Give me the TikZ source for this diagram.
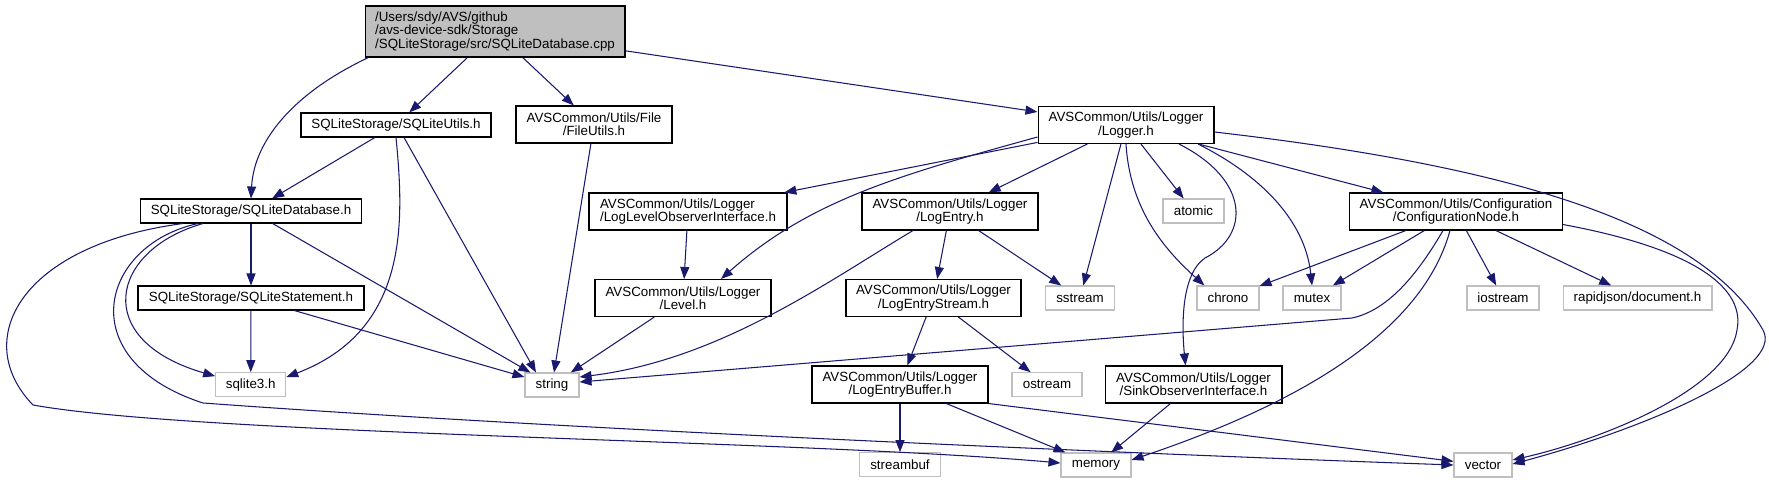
\documentclass[tikz,border=0pt]{standalone}
\usepackage{fontspec}
\setmainfont{Liberation Sans}
\usetikzlibrary{arrows.meta, calc, positioning}

\definecolor{edgeblue}{RGB}{25,25,112}
\definecolor{boxgray}{RGB}{191,191,191}

\tikzset{
  hdr/.style={draw=black, fill=white, line width=0.6pt, inner sep=0pt, align=center,
              font=\fontsize{7.6}{7.6}\selectfont, minimum height=0.48cm},
  hdrtwo/.style={hdr, minimum height=0.74cm},
  sys/.style={hdr, draw=boxgray},
  dep/.style={draw=edgeblue, line width=0.6pt, -{Triangle[length=0.24cm, width=0.18cm]}}
}

\begin{document}
\begin{tikzpicture}[x=0.02cm, y=-0.02cm]
    \path[use as bounding box, fill=white] (0,0) rectangle (1769,483);

    % top row
    \node[hdr, fill=boxgray, align=left, minimum width=5.2cm, minimum height=1.02cm] (root) at (495,31.5)
      {/Users/sdy/AVS/github\\/avs-device-sdk/Storage\\/SQLiteStorage/src/SQLiteDatabase.cpp};
    \node[hdr, minimum width=3.8cm] (sqlutils) at (396,125) {SQLiteStorage/SQLiteUtils.h};
    \node[hdrtwo, minimum width=3.12cm] (fileutils) at (594,124.5) {AVSCommon/Utils/File\\/FileUtils.h};
    \node[hdrtwo, minimum width=3.52cm] (logger) at (1126,125) {AVSCommon/Utils/Logger\\/Logger.h};

    % second row
    \node[hdr, minimum width=4.42cm] (sqldb) at (251,211) {SQLiteStorage/SQLiteDatabase.h};
    \node[hdrtwo, align=left, minimum width=3.96cm] (loglevelobs) at (688,211.5) {AVSCommon/Utils/Logger\\/LogLevelObserverInterface.h};
    \node[hdrtwo, minimum width=3.52cm] (logentry) at (950,211.5) {AVSCommon/Utils/Logger\\/LogEntry.h};
    \node[sys, minimum width=1.22cm] (atomic) at (1193.5,211) {atomic};
    \node[hdrtwo, minimum width=4.26cm] (confignode) at (1456,211.5) {AVSCommon/Utils/Configuration\\/ConfigurationNode.h};

    % third row
    \node[hdr, minimum width=4.52cm] (sqlstmt) at (251,298) {SQLiteStorage/SQLiteStatement.h};
    \node[hdrtwo, minimum width=3.52cm] (level) at (683,298) {AVSCommon/Utils/Logger\\/Level.h};
    \node[hdrtwo, minimum width=3.5cm] (logstream) at (933.5,298) {AVSCommon/Utils/Logger\\/LogEntryStream.h};
    \node[sys, minimum width=1.38cm] (sstream) at (1080,298) {sstream};
    \node[sys, minimum width=1.24cm] (chrono) at (1228,298) {chrono};
    \node[sys, minimum width=1.16cm] (mutex) at (1312,298) {mutex};
    \node[sys, minimum width=1.44cm] (iostream) at (1503,298) {iostream};
    \node[sys, minimum width=2.98cm] (rapidjson) at (1637.5,298) {rapidjson/document.h};

    % fourth row
    \node[sys, minimum width=1.4cm] (sqlite3) at (250.7,384.7) {sqlite3.h};
    \node[sys, minimum width=1.08cm] (string) at (552,385) {string};
    \node[hdrtwo, minimum width=3.52cm] (logbuffer) at (900,384.5) {AVSCommon/Utils/Logger\\/LogEntryBuffer.h};
    \node[sys, minimum width=1.4cm] (ostream) at (1047,384.7) {ostream};
    \node[hdrtwo, minimum width=3.54cm] (sinkobs) at (1193.5,384.5) {AVSCommon/Utils/Logger\\/SinkObserverInterface.h};

    % bottom row
    \node[sys, minimum width=1.62cm] (streambuf) at (900,464.7) {streambuf};
    \node[sys, minimum width=1.4cm] (memory) at (1096,465) {memory};
    \node[sys, minimum width=1.16cm] (vector) at (1483,465) {vector};

    % SQLiteDatabase.cpp
    \draw[dep] ($(root.south west)+(4,0)$) .. controls (295,92) and (254,140) .. (sqldb.north);
    \draw[dep] (root) -- (sqlutils);
    \draw[dep] (root) -- (fileutils);
    \draw[dep] (root) -- (logger);

    % SQLiteUtils.h, FileUtils.h
    \draw[dep] (sqlutils) -- (sqldb);
    \draw[dep] (sqlutils.south) .. controls (404,220) and (410,330) .. ($(sqlite3.north east)+(0,5)$);
    \draw[dep] ($(sqlutils.south)+(8,0)$) -- ($(string.north)+(-16,0)$);
    \draw[dep] (fileutils) -- (string);

    % SQLiteDatabase.h, SQLiteStatement.h
    \draw[dep] (sqldb) -- (sqlstmt);
    \draw[dep] (sqldb) -- (string);
    \draw[dep] ($(sqldb.south)+(-48,0)$) .. controls (110,250) and (90,340) .. ($(sqlite3.north west)+(0,4)$);
    \draw[dep] ($(sqldb.south)+(-53,0)$) .. controls (100,245) and (70,360) .. (203,403)
      .. controls (600,432) and (1200,456) .. (vector.west);
    \draw[dep] ($(sqldb.south)+(-68,0)$) .. controls (20,245) and (-30,340) .. (33,405)
      .. controls (200,435) and (800,440) .. ($(memory.west)+(0,-2)$);
    \draw[dep] (sqlstmt) -- (sqlite3);
    \draw[dep] (sqlstmt) -- (string);

    % Logger.h
    \draw[dep] (logger) -- (loglevelobs);
    \draw[dep] ($(logger.west)+(0,12)$) .. controls (900,175) and (810,200) .. ($(level.north)+(38,0)$);
    \draw[dep] (logger) -- (logentry);
    \draw[dep] (logger) -- (sstream);
    \draw[dep] (logger) -- (atomic);
    \draw[dep] (logger.south) .. controls (1130,210) and (1165,250) .. ($(chrono.north west)+(8,0)$);
    \draw[dep] ($(logger.south)+(53,0)$) .. controls (1250,180) and (1250,235) .. (1205,258)
      .. controls (1180,275) and (1182,330) .. ($(sinkobs.north)+(-8,0)$);
    \draw[dep] ($(logger.south)+(72,0)$) .. controls (1260,175) and (1305,220) .. (mutex.north);
    \draw[dep] (logger) -- (confignode);
    \draw[dep] ($(logger.east)+(0,7)$) .. controls (1500,165) and (1700,220) .. (1763,330)
      .. controls (1785,370) and (1640,430) .. ($(vector.east)+(0,-1)$);

    % ConfigurationNode.h
    \draw[dep] (confignode) -- (chrono);
    \draw[dep] (confignode) -- (mutex);
    \draw[dep] (confignode) -- (iostream);
    \draw[dep] (confignode) -- (rapidjson);
    \draw[dep] ($(confignode.south)+(-13,0)$) .. controls (1420,270) and (1390,310) .. (1352,318)
      -- ($(string.east)+(0,-3)$);
    \draw[dep] ($(confignode.south)+(-6,0)$) .. controls (1420,340) and (1280,410) .. ($(memory.east)+(0,-5)$);
    \draw[dep] ($(confignode.east)+(0,13)$) .. controls (1700,250) and (1745,290) .. (1737,330)
      .. controls (1728,390) and (1600,440) .. ($(vector.east)+(0,-5)$);

    % logger internals
    \draw[dep] (loglevelobs) -- (level);
    \draw[dep] (level) -- (string);
    \draw[dep] ($(logentry.south)+(-37,0)$) .. controls (830,280) and (720,360) .. ($(string.east)+(0,-8)$);
    \draw[dep] (logentry) -- (logstream);
    \draw[dep] (logentry) -- (sstream);
    \draw[dep] (logstream) -- (logbuffer);
    \draw[dep] (logstream) -- (ostream);
    \draw[dep] (logbuffer) -- (streambuf);
    \draw[dep] (logbuffer) -- (memory);
    \draw[dep] (logbuffer.south east) -- (vector);
    \draw[dep] (sinkobs) -- (memory);
\end{tikzpicture}
\end{document}
